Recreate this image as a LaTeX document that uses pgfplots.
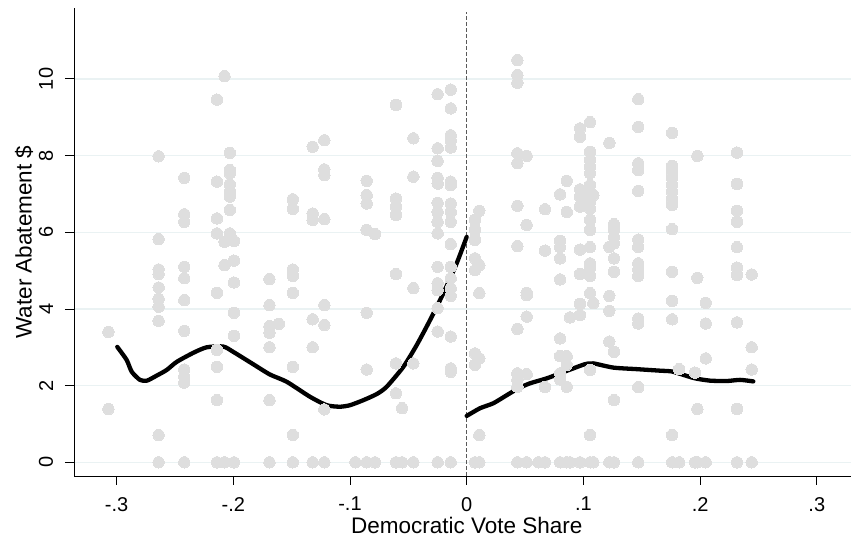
\documentclass[border=0pt]{standalone}
\usepackage{pgfplots}
\pgfplotsset{compat=1.18}
\usepackage{fontspec}
\setmainfont{Liberation Sans}
\definecolor{ptgray}{RGB}{222,222,222}
\definecolor{gridc}{RGB}{234,242,243}
\begin{document}
\begin{tikzpicture}
\useasboundingbox (0,0) rectangle (851pt,540pt);
\clip (0,0) rectangle (851pt,540pt);
\begin{axis}[
  at={(74pt,64pt)}, anchor=south west,
  scale only axis, width=785.4pt, height=468pt,
  xmin=-0.3365, xmax=0.3365, ymin=-0.357, ymax=11.85,
  axis lines*=left,
  axis line style={black, line width=0.9pt},
  tick align=outside, major tick length=9pt,
  tick style={black, line width=0.9pt},
  xtick={-0.3,-0.2,-0.1,0,0.1,0.2,0.3},
  xticklabels={-.3,-.2,-.1,0,.1,.2,.3},
  ytick={0,2,4,6,8,10},
  yticklabels={0,2,4,6,8,10},
  ymajorgrids, grid style={gridc, line width=1.2pt},
  xticklabel shift=12pt,
  yticklabel shift=11.7pt,
  x tick label style={font=\fontsize{20}{24}\selectfont, anchor=north, inner sep=0pt},
  y tick label style={font=\fontsize{20}{24}\selectfont, rotate=90, anchor=south, inner sep=0pt},
  xlabel={Democratic Vote Share},
  ylabel={Water Abatement \$},
  xlabel style={font=\fontsize{22.5}{26}\selectfont, at={(axis description cs:0.5,-0.1224)}, anchor=base},
  ylabel style={font=\fontsize{22.5}{26}\selectfont, at={(axis description cs:-0.0539,0.5)}, anchor=base},
  clip=false,
]
\addplot[only marks, mark=*, color=ptgray, mark size=5.7pt, mark options={fill=ptgray, draw=ptgray, line width=0pt}] table {
x y
-0.307 3.40
-0.307 1.39
-0.264 7.98
-0.264 5.82
-0.264 5.03
-0.264 4.91
-0.264 4.56
-0.264 4.26
-0.264 4.06
-0.264 3.69
-0.264 0.71
-0.264 0
-0.242 7.42
-0.242 6.47
-0.242 6.27
-0.242 5.10
-0.242 4.80
-0.242 4.23
-0.242 3.43
-0.242 2.42
-0.242 2.23
-0.242 2.08
-0.242 0
-0.214 9.46
-0.214 7.32
-0.214 6.36
-0.214 5.97
-0.214 4.42
-0.214 2.93
-0.214 2.49
-0.214 1.62
-0.214 0
-0.2075 10.07
-0.2075 5.75
-0.2075 5.14
-0.2075 0
-0.203 8.07
-0.203 7.62
-0.203 7.54
-0.203 7.25
-0.203 7.06
-0.203 6.93
-0.203 6.58
-0.203 5.97
-0.1994 5.77
-0.1994 5.26
-0.1994 4.69
-0.1994 3.90
-0.1994 3.30
-0.1994 0
-0.169 4.78
-0.169 4.10
-0.169 3.55
-0.169 3.38
-0.169 3.00
-0.169 1.62
-0.169 0
-0.161 3.61
-0.149 6.86
-0.149 6.61
-0.149 5.03
-0.149 4.86
-0.149 4.42
-0.149 2.49
-0.149 0.71
-0.149 0
-0.132 8.23
-0.132 6.49
-0.132 6.32
-0.132 3.73
-0.132 3.00
-0.132 0
-0.122 8.40
-0.122 7.64
-0.122 7.49
-0.122 6.34
-0.122 4.10
-0.122 3.58
-0.122 1.38
-0.122 0
-0.0954 0
-0.0857 7.34
-0.0857 6.97
-0.0857 6.75
-0.0857 6.06
-0.0857 3.90
-0.0857 2.42
-0.0857 0
-0.0786 5.95
-0.0786 0
-0.0606 9.32
-0.0606 6.88
-0.0606 6.67
-0.0606 6.45
-0.0606 4.91
-0.0606 2.58
-0.0606 1.80
-0.0606 0
-0.0554 1.41
-0.0554 0
-0.0457 8.45
-0.0457 7.45
-0.0457 4.54
-0.0457 2.58
-0.0457 0
-0.0249 9.60
-0.0249 8.19
-0.0249 7.86
-0.0249 7.42
-0.0249 7.27
-0.0249 6.77
-0.0249 6.53
-0.0249 6.27
-0.0249 5.97
-0.0249 5.10
-0.0249 4.67
-0.0249 4.49
-0.0249 4.02
-0.0249 3.41
-0.0249 0
-0.0137 9.72
-0.0137 9.23
-0.0137 8.53
-0.0137 8.40
-0.0137 8.21
-0.0137 7.32
-0.0137 7.23
-0.0137 6.75
-0.0137 6.53
-0.0137 6.27
-0.0137 5.69
-0.0137 5.10
-0.0137 4.80
-0.0137 4.54
-0.0137 4.34
-0.0137 3.28
-0.0137 2.45
-0.0137 2.36
-0.0137 0
0.0071 6.32
0.0071 6.06
0.0071 5.80
0.0071 5.32
0.0071 5.01
0.0071 2.84
0.0071 2.54
0.0071 0
0.0108 6.56
0.0108 5.14
0.0108 4.41
0.0108 2.71
0.0108 0.71
0.0108 0
0.0434 10.49
0.0434 10.10
0.0434 9.90
0.0434 8.06
0.0434 7.80
0.0434 6.69
0.0434 5.64
0.0434 3.48
0.0434 2.32
0.0434 2.15
0.0434 1.97
0.0434 0
0.0514 7.99
0.0514 6.19
0.0514 4.42
0.0514 4.36
0.0514 3.80
0.0514 2.30
0.0514 0
0.0614 0
0.0671 6.60
0.0671 5.52
0.0671 1.96
0.0671 0
0.080 6.99
0.080 5.78
0.080 5.61
0.080 5.32
0.080 4.77
0.080 3.23
0.080 2.77
0.080 2.32
0.080 2.16
0.080 0
0.0857 7.34
0.0857 6.53
0.0857 2.77
0.0857 2.54
0.0857 1.97
0.0857 0
0.0885 3.78
0.0885 0
0.0971 8.71
0.0971 8.49
0.0971 7.12
0.0971 6.93
0.0971 6.67
0.0971 5.55
0.0971 4.91
0.0971 4.13
0.0971 3.84
0.0971 0
0.1057 8.87
0.1057 8.10
0.1057 7.88
0.1057 7.71
0.1057 7.54
0.1057 7.23
0.1057 7.06
0.1057 6.80
0.1057 6.62
0.1057 6.32
0.1057 6.06
0.1057 5.61
0.1057 5.19
0.1057 5.06
0.1057 4.86
0.1057 4.41
0.1057 2.41
0.1057 0.71
0.1057 0
0.1085 6.97
0.1085 4.15
0.1085 0
0.1222 8.33
0.1222 5.62
0.1222 4.34
0.1222 3.95
0.1222 3.15
0.1222 0
0.1262 6.21
0.1262 6.06
0.1262 5.87
0.1262 5.71
0.1262 5.32
0.1262 4.97
0.1262 2.88
0.1262 1.62
0.1262 0
0.147 9.47
0.147 8.75
0.147 7.80
0.147 7.62
0.147 7.08
0.147 5.81
0.147 5.62
0.147 5.19
0.147 5.03
0.147 4.86
0.147 3.75
0.147 3.62
0.147 1.96
0.147 0
0.176 8.59
0.176 7.73
0.176 7.58
0.176 7.41
0.176 7.23
0.176 7.06
0.176 6.87
0.176 6.71
0.176 6.08
0.176 4.97
0.176 4.21
0.176 3.73
0.176 0.71
0.176 0
0.182 2.43
0.182 0
0.1956 2.34
0.1956 0
0.1976 7.99
0.1976 4.81
0.1976 1.39
0.1976 0
0.2048 4.16
0.2048 3.62
0.2048 2.71
0.2048 0
0.2316 8.08
0.2316 7.26
0.2316 6.56
0.2316 6.27
0.2316 5.61
0.2316 5.08
0.2316 4.88
0.2316 3.65
0.2316 1.39
0.2316 0
0.2442 4.90
0.2442 3.00
0.2442 2.42
0.2442 0
};
\addplot[black!65, line width=1pt, dash pattern=on 3.5pt off 2.5pt] coordinates {(0,-0.357) (0,11.75)};
\addplot[black, line width=4.3pt, line cap=round, line join=round, smooth, tension=0.4] coordinates {
(-0.2994,3.01) (-0.2914,2.67) (-0.287,2.36) (-0.280,2.15) (-0.274,2.13) (-0.2657,2.26) (-0.257,2.41) (-0.2485,2.62) (-0.234,2.86) (-0.2228,3.00) (-0.2086,3.02) (-0.200,2.88) (-0.183,2.56) (-0.1686,2.29) (-0.1542,2.10) (-0.1343,1.71) (-0.12,1.49) (-0.1086,1.45) (-0.10,1.49) (-0.0886,1.62) (-0.0771,1.78) (-0.0686,1.97) (-0.0543,2.49) (-0.0428,3.06) (-0.0314,3.71) (-0.02,4.41) (-0.0086,5.19) (0,5.88)
};
\addplot[black, line width=4.3pt, line cap=round, line join=round, smooth, tension=0.4] coordinates {
(0,1.21) (0.0114,1.41) (0.0228,1.54) (0.0343,1.75) (0.0443,1.93) (0.0542,2.06) (0.0686,2.19) (0.08,2.32) (0.0914,2.45) (0.1014,2.56) (0.1085,2.58) (0.1257,2.47) (0.1457,2.43) (0.1657,2.39) (0.1757,2.37) (0.1857,2.28) (0.1956,2.19) (0.2085,2.13) (0.2228,2.12) (0.2342,2.15) (0.2456,2.11)
};
\end{axis}
\end{tikzpicture}
\end{document}
